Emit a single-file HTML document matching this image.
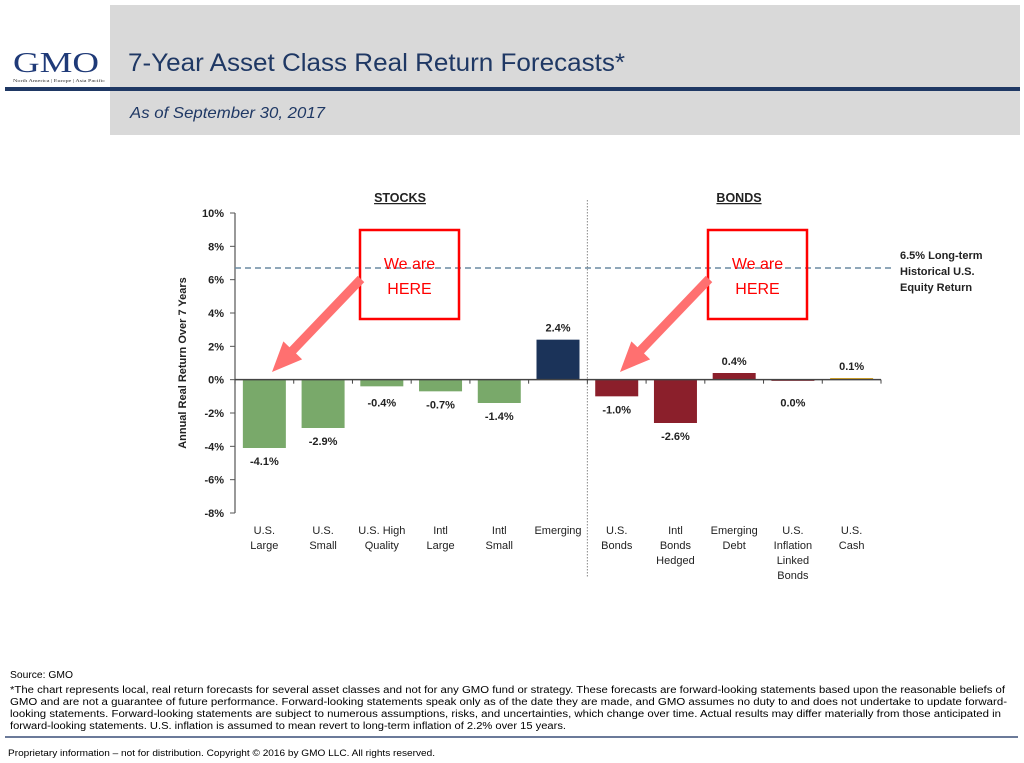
<!DOCTYPE html>
<html><head><meta charset="utf-8"><style>
html,body{margin:0;padding:0;background:#fff;}
svg{display:block;font-family:"Liberation Sans",sans-serif;}
</style></head><body>
<svg width="1024" height="763" viewBox="0 0 1024 763" xmlns="http://www.w3.org/2000/svg">
<rect x="110" y="5" width="910" height="130" fill="#d9d9d9"/>
<rect x="5" y="87" width="1015" height="4" fill="#1f3864"/>
<text x="13" y="72" font-family="Liberation Serif,serif" font-size="29" fill="#1f3a78" textLength="86" lengthAdjust="spacingAndGlyphs">GMO</text>
<text x="13" y="82" font-family="Liberation Serif,serif" font-size="4.5" fill="#333" textLength="92" lengthAdjust="spacingAndGlyphs">North America | Europe | Asia Pacific</text>
<text x="128" y="71" font-size="25" fill="#1f3864" textLength="497" lengthAdjust="spacingAndGlyphs">7-Year Asset Class Real Return Forecasts*</text>
<text x="130" y="118" font-size="16" font-style="italic" fill="#1f3864" textLength="195" lengthAdjust="spacingAndGlyphs">As of September 30, 2017</text>

<g id="chart"></g>

<text x="10" y="678" font-size="10" fill="#000" textLength="63" lengthAdjust="spacingAndGlyphs">Source: GMO</text>
<g font-size="10" fill="#000">
<text x="10" y="693" textLength="995" lengthAdjust="spacingAndGlyphs">*The chart represents local, real return forecasts for several asset classes and not for any GMO fund or strategy.  These forecasts are forward-looking statements based upon the reasonable beliefs of</text>
<text x="10" y="705" textLength="997" lengthAdjust="spacingAndGlyphs">GMO and are not a guarantee of future performance.  Forward-looking statements speak only as of the date they are made, and GMO assumes no duty to and does not undertake to update forward-</text>
<text x="10" y="717" textLength="991" lengthAdjust="spacingAndGlyphs">looking statements.  Forward-looking statements are subject to numerous assumptions, risks, and uncertainties, which change over time.  Actual results may differ materially from those anticipated in</text>
<text x="10" y="729" textLength="556" lengthAdjust="spacingAndGlyphs">forward-looking statements. U.S. inflation is assumed to mean revert to long-term inflation of 2.2% over 15 years.</text>
</g>
<rect x="5" y="736" width="1013" height="2" fill="#6b7a99"/>
<text x="8" y="756" font-size="9.5" fill="#000" textLength="427" lengthAdjust="spacingAndGlyphs">Proprietary information – not for distribution.  Copyright © 2016 by GMO LLC.  All rights reserved.</text>
</svg>
<script>
const categories=[["U.S.","Large"],["U.S.","Small"],["U.S. High","Quality"],["Intl","Large"],["Intl","Small"],["Emerging"],["U.S.","Bonds"],["Intl","Bonds","Hedged"],["Emerging","Debt"],["U.S.","Inflation","Linked","Bonds"],["U.S.","Cash"]];
const values=[-4.1,-2.9,-0.4,-0.7,-1.4,2.4,-1.0,-2.6,0.4,-0.05,0.1];
const valueLabels=["-4.1%","-2.9%","-0.4%","-0.7%","-1.4%","2.4%","-1.0%","-2.6%","0.4%","0.0%","0.1%"];
const groups=["stock","stock","stock","stock","stock","stock2","bond","bond","bond","bond","cash"];
const yTicks=[10,8,6,4,2,0,-2,-4,-6,-8];
const yTickLabels=["10%","8%","6%","4%","2%","0%","-2%","-4%","-6%","-8%"];
const benchmark=[6.7];
const colors={stock:"#79a96a",stock2:"#1b3359",bond:"#8b1f2b",cash:"#d8a626"};
const NS="http://www.w3.org/2000/svg";
const g=document.getElementById('chart');
const x0=235,x1=881,yMin=-8,yMax=10,yTop=213,yBot=513;
const bw=(x1-x0)/categories.length;
function y(v){return yBot-(v-yMin)/(yMax-yMin)*(yBot-yTop);}
function xc(i){return x0+bw*(i+0.5);}
function mk(t,a,txt){const e=document.createElementNS(NS,t);for(const k in a)e.setAttribute(k,a[k]);if(txt!==undefined)e.textContent=txt;g.appendChild(e);return e;}
let e;
// y axis
e=mk('line',{x1:x0,y1:yTop,x2:x0,y2:yBot,stroke:'#555','stroke-width':1.2});


yTicks.forEach((t,i)=>{
 e=mk('line',{x1:x0-5,y1:y(t),x2:x0,y2:y(t),stroke:'#555'});
 
 
 e=mk('text',{x:x0-11,y:y(t)+4,'font-size':11,'font-weight':'bold','text-anchor':'end',fill:'#222'},yTickLabels[i]);
 
 
});
e=mk('text',{x:0,y:0,'font-size':11,'font-weight':'bold','text-anchor':'middle',fill:'#222',transform:'translate(186,363) rotate(-90)'},'Annual Real Return Over 7 Years');


// dashed benchmark
e=mk('line',{x1:x0,y1:y(benchmark[0]),x2:892,y2:y(benchmark[0]),stroke:'#6a8aa2','stroke-width':1.5,'stroke-dasharray':'6,4'});


["6.5% Long-term","Historical U.S.","Equity Return"].forEach((s,i)=>{
 e=mk('text',{x:900,y:259+i*16,'font-size':11,'font-weight':'bold',fill:'#222'},s);
 
 
});
// divider
e=mk('line',{x1:x0+bw*6,y1:200,x2:x0+bw*6,y2:578,stroke:'#888','stroke-width':1,'stroke-dasharray':'1.5,1.5'});


// section titles
[["STOCKS",400],["BONDS",739]].forEach(([s,cx])=>{
 e=mk('text',{x:cx,y:202,'font-size':12.5,'font-weight':'bold','text-anchor':'middle',fill:'#222','text-decoration':'underline'},s);
 
 
});
// bars
values.forEach((v,i)=>{
 const top=Math.min(y(v),y(0)),h=Math.max(Math.abs(y(v)-y(0)),1.2);
 e=mk('rect',{x:xc(i)-21.5,y:top,width:43,height:h,fill:colors[groups[i]]});
 
 
 const ly=v>=0?y(v)-8:Math.max(y(v),y(0)+10)+17;
 e=mk('text',{x:xc(i),y:ly,'font-size':11,'font-weight':'bold','text-anchor':'middle',fill:'#222'},valueLabels[i]);
 
 
 categories[i].forEach((s,j)=>{
  e=mk('text',{x:xc(i),y:534+j*15,'font-size':11,'text-anchor':'middle',fill:'#222'},s);
  
  
 });
});
// x axis
e=mk('line',{x1:x0,y1:y(0),x2:x1,y2:y(0),stroke:'#444','stroke-width':1.5});


for(let i=0;i<=categories.length;i++){
 e=mk('line',{x1:x0+bw*i,y1:y(0),x2:x0+bw*i,y2:y(0)+4,stroke:'#444'});
 
 
}
// callouts
[[360,706]].forEach(()=>{});
[360,708].forEach((bx,k)=>{
 e=mk('rect',{x:bx,y:230,width:99,height:89,fill:'none',stroke:'#ff0000','stroke-width':2.5});
 
 
 e=mk('text',{x:bx+49.5,y:269,'font-size':16,'text-anchor':'middle',fill:'#ff0000'},'We are');
 
 
 e=mk('text',{x:bx+49.5,y:294,'font-size':16,'text-anchor':'middle',fill:'#ff0000'},'HERE');
 
 
 const tx=bx+1,ty=279,hx=bx-88,hy=372;
 const dx=hx-tx,dy=hy-ty,L=Math.hypot(dx,dy),ux=dx/L,uy=dy/L,px=-uy,py=ux;
 const bxp=hx-ux*30,byp=hy-uy*30;
 const pts=[[tx+px*4.5,ty+py*4.5],[bxp+px*4.5,byp+py*4.5],[bxp+px*13,byp+py*13],[hx,hy],[bxp-px*13,byp-py*13],[bxp-px*4.5,byp-py*4.5],[tx-px*4.5,ty-py*4.5]];
 e=mk('polygon',{points:pts.map(p=>p.join(',')).join(' '),fill:'#ff7070'});
 
 
});
</script>
</body></html>
